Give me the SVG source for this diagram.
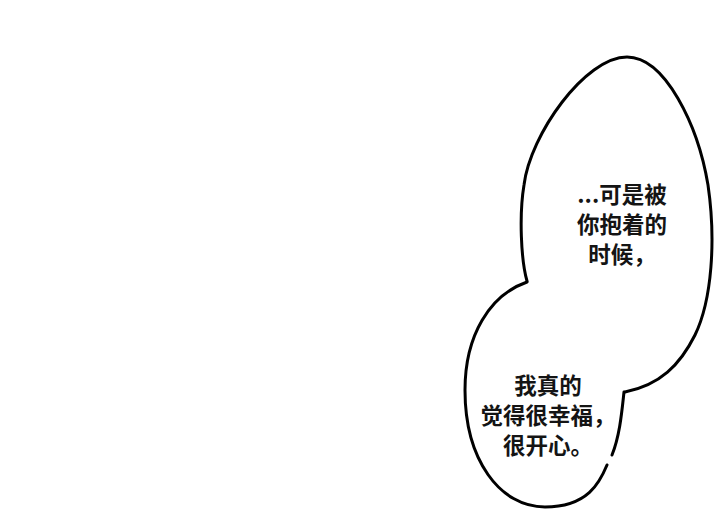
<svg xmlns="http://www.w3.org/2000/svg" width="720" height="518" viewBox="0 0 720 518">
<style>
.outline{fill:none;stroke:#000;stroke-width:3;stroke-linecap:round;stroke-linejoin:round}
.txt{font-family:"Noto Sans CJK SC","Noto Sans",sans-serif;font-size:22.5px;font-weight:700;fill:#141414;text-anchor:middle}
</style>
<rect width="720" height="518" fill="#fff"/>
<g id="bubble-top">
<path class="outline" d="M527,281 C521,260 519,215 524,185 C530,135 585,57 627,57 C665,57 698,125 708,185 C716,240 712,300 695,335 C680,365 660,385 625,392"/>
<text class="txt" x="622" y="203">...可是被</text>
<text class="txt" x="622" y="233">你抱着的</text>
<text class="txt" x="622" y="263">时候，</text>
</g>
<g id="bubble-bottom">
<path class="outline" d="M527,282 C490,295 465,335 465,390 C465,460 500,507 545,507 C588,507 600,482 607,465"/>
<path class="outline" d="M612,455 C620,435 622,410 624,392"/>
<text class="txt" x="548" y="394">我真的</text>
<text class="txt" x="548" y="424">觉得很幸福，</text>
<text class="txt" x="548" y="454">很开心。</text>
</g>
</svg>
